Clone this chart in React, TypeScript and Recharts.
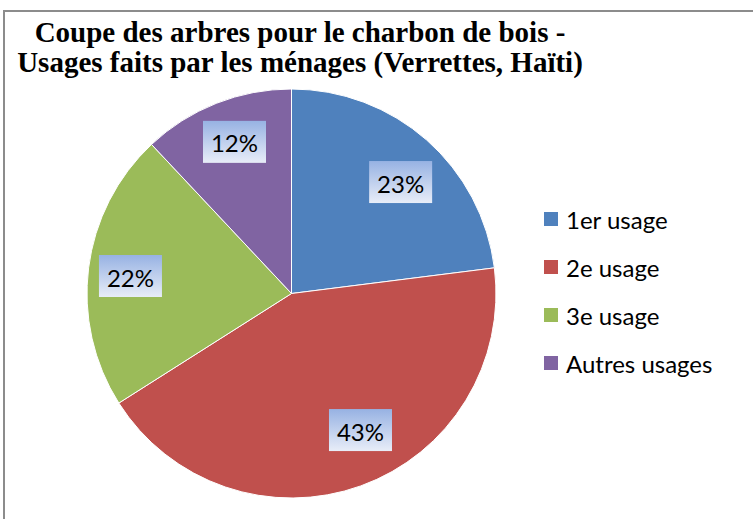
import { PieChart, Pie, Cell, Legend } from 'recharts';

const usageNames = ['1er usage', '2e usage', '3e usage', 'Autres usages'];
const usageShares = [23, 43, 22, 12];
const sliceColors = ['#4f81bd', '#c0504d', '#9bbb59', '#8064a2'];

const titleLines = [
  'Coupe des arbres pour le charbon de bois -',
  'Usages faits par les ménages (Verrettes, Haïti)',
];

// small "best fit" nudges for the data labels (angle in degrees, radius in px)
const labelAngleNudge = [-3, 7, 1, -1];
const labelRadius = [156, 153, 162, 162];

const data = usageNames.map((name, i) => ({ name, value: usageShares[i] }));

const RAD = Math.PI / 180;

const renderLabel = (props: any) => {
  const { cx, cy, midAngle, percent, index } = props;
  const r = labelRadius[index];
  const a = midAngle + labelAngleNudge[index];
  const x = cx + r * Math.cos(-a * RAD);
  const y = cy + r * Math.sin(-a * RAD);
  const w = 63;
  const h = 42;
  const gid = `lblGrad${index}`;
  return (
    <g>
      <defs>
        <linearGradient id={gid} x1="0" y1="0" x2="0" y2="1">
          <stop offset="0%" stopColor="#97b2e3" />
          <stop offset="100%" stopColor="#e8edf8" />
        </linearGradient>
      </defs>
      <rect x={x - w / 2} y={y - h / 2} width={w} height={h} fill={`url(#${gid})`} />
      <text
        x={x}
        y={y + 1}
        textAnchor="middle"
        dominantBaseline="central"
        fontFamily="Lato, sans-serif"
        fontSize={24}
        fill="#000"
      >
        {`${Math.round(percent * 100)}%`}
      </text>
    </g>
  );
};

const LegendContent = ({ payload }: any) => (
  <div>
    {(payload || []).map((entry: any, i: number) => (
      <div
        key={i}
        style={{ display: 'flex', alignItems: 'center', height: 48, fontFamily: 'Lato, sans-serif', fontSize: 24, color: '#000' }}
      >
        <span style={{ width: 14, height: 14, background: entry.color, marginRight: 8, display: 'inline-block' }} />
        <span>{entry.value}</span>
      </div>
    ))}
  </div>
);

export default function App() {
  return (
    <div style={{ position: 'absolute', left: 0, top: 0, width: 753, height: 519, overflow: 'hidden', background: '#fff' }}>
      <div
        style={{
          position: 'absolute',
          left: 3,
          top: 10,
          width: 800,
          height: 600,
          borderLeft: '2px solid #8c8c8c',
          borderTop: '2px solid #8c8c8c',
        }}
      />
      <div
        style={{
          position: 'absolute',
          left: 0,
          top: 17,
          width: 600,
          textAlign: 'center',
          fontFamily: '"Liberation Serif", "Times New Roman", serif',
          fontWeight: 'bold',
          fontSize: 29,
          lineHeight: '30px',
          color: '#000',
        }}
      >
        {titleLines.map((t, i) => (
          <div key={i}>{t}</div>
        ))}
      </div>
      <PieChart
        width={753}
        height={519}
        margin={{ top: 0, right: 0, bottom: 0, left: 0 }}
        style={{ position: 'absolute', left: 0, top: 0 }}
      >
        <Pie
          data={data}
          dataKey="value"
          nameKey="name"
          cx={291.5}
          cy={293.5}
          outerRadius={204.5}
          startAngle={90}
          endAngle={-270}
          stroke="#fff"
          strokeWidth={1}
          label={renderLabel}
          labelLine={false}
          isAnimationActive={false}
        >
          {data.map((d, i) => (
            <Cell key={d.name} fill={sliceColors[i]} />
          ))}
        </Pie>
        <Legend
          layout="vertical"
          align="right"
          verticalAlign="top"
          content={<LegendContent />}
          wrapperStyle={{ left: 544, top: 195, width: 200, right: 'auto' }}
        />
      </PieChart>
    </div>
  );
}
